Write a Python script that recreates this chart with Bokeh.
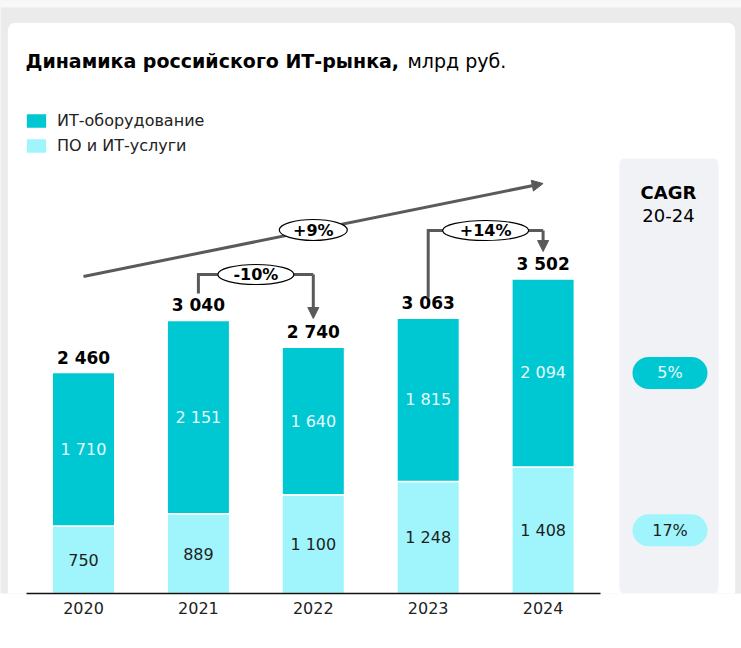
from bokeh.plotting import figure
from bokeh.models import (Range1d, LinearAxis, FixedTicker, ColumnDataSource, Legend,
                          LegendItem, BoxAnnotation, Arrow, NormalHead)
from bokeh.core.properties import value
from bokeh.embed import file_html
from bokeh.resources import INLINE

# ---------------- data ----------------
years = ["2020", "2021", "2022", "2023", "2024"]
hardware = [1710, 2151, 1640, 1815, 2094]      # ИТ-оборудование
software = [750, 889, 1100, 1248, 1408]        # ПО и ИТ-услуги
totals = [2460, 3040, 2740, 3063, 3502]
series_names = ["ИТ-оборудование", "ПО и ИТ-услуги"]
growth_labels = ["+9%", "-10%", "+14%"]
cagr_labels = ["5%", "17%"]
title_bold = "Динамика российского ИТ-рынка,"
title_unit = "млрд руб."

# ---------------- styling ----------------
TEAL = "#00c8d3"
LIGHT = "#a0f5fc"
GRAY = "#5a5a5a"
DARK = "#1e1e1e"
PAGE = "#ebebeb"
FONT = value("DejaVu Sans")

W, H = 741, 648
BOTTOM = 55
FRAME_H = H - BOTTOM   # frame bottom (axis line) at page y 593
PX_X = 114.9           # px per category
X0 = 83                # page x of first category
PX_Y = 221 / 2460      # px per unit

def X(page_x):
    return (page_x - X0) / PX_X

def Y(page_y):
    return (FRAME_H - page_y) / PX_Y

def dy(px):
    return px / PX_Y

def fmt(v):
    return f"{v:,}".replace(",", " ")

p = figure(width=W, height=H, x_range=Range1d(X(0), X(W)), y_range=Range1d(0, FRAME_H / PX_Y),
           output_backend="svg", toolbar_location=None, x_axis_location=None, y_axis_location=None,
           min_border=0, min_border_bottom=BOTTOM, background_fill_color=PAGE,
           border_fill_color="white", outline_line_color=None)
p.xgrid.visible = False
p.ygrid.visible = False

# page background top band and card
p.add_layout(BoxAnnotation(bottom=Y(7), fill_color="#f8f8f8", fill_alpha=1, line_color=None, level="underlay"))
p.add_layout(BoxAnnotation(left=X(7), right=X(735), top=Y(22), bottom=Y(700), border_radius=8,
                           fill_color="white", fill_alpha=1, line_color="#dedede", line_width=1,
                           level="underlay"))
# CAGR panel
p.add_layout(BoxAnnotation(left=X(619), right=X(718), top=Y(158), bottom=Y(593), border_radius=5,
                           fill_color="#f1f2f6", fill_alpha=1, line_color=None, level="underlay"))

xs = list(range(len(years)))
src = ColumnDataSource(dict(x=xs, sw=software, hw=hardware))
rs = p.vbar_stack(["sw", "hw"], x="x", width=0.544, color=[LIGHT, TEAL], line_color="white",
                  line_width=1.5, source=src)

# segment labels
p.text(x=xs, y=[s / 2 for s in software], text=[fmt(v) for v in software], text_font=FONT,
       text_font_size="16px", text_color=DARK, text_align="center", text_baseline="middle")
p.text(x=xs, y=[s + h / 2 for s, h in zip(software, hardware)], text=[fmt(v) for v in hardware],
       text_font=FONT, text_font_size="16px", text_color="#e6fbfd", text_align="center",
       text_baseline="middle")
# totals
p.text(x=xs, y=totals, text=[fmt(v) for v in totals], text_font=FONT, text_font_style="bold",
       text_font_size="17px", text_color="black", text_align="center", text_baseline="bottom",
       y_offset=-5)

# axis
xaxis = LinearAxis(ticker=FixedTicker(ticks=xs), major_label_overrides={i: y for i, y in enumerate(years)},
                   bounds=(X(26), X(600)), major_tick_line_color=None, minor_tick_line_color=None,
                   axis_line_color="#111111", axis_line_width=1.5, major_label_text_font_size="16px",
                   major_label_standoff=2, major_label_text_color="#222222",
                   major_label_text_font="DejaVu Sans")
p.add_layout(xaxis, "below")

head = dict(size=11, fill_color=GRAY, line_color=GRAY)
# trend arrow
p.add_layout(Arrow(x_start=0, y_start=Y(276), x_end=4, y_end=Y(183), line_color=GRAY, line_width=3,
                   end=NormalHead(**head), level="underlay"))
# brackets
p.line(x=[1, 1, 2], y=[Y(293), Y(274), Y(274)], line_color=GRAY, line_width=3, line_join="miter")
p.add_layout(Arrow(x_start=2, y_start=Y(274), x_end=2, y_end=Y(318), line_color=GRAY, line_width=3,
                   end=NormalHead(**head), level="underlay"))
p.line(x=[3, 3, 4], y=[Y(297), Y(230), Y(230)], line_color=GRAY, line_width=3, line_join="miter")
p.add_layout(Arrow(x_start=4, y_start=Y(230), x_end=4, y_end=Y(251), line_color=GRAY, line_width=3,
                   end=NormalHead(**head), level="underlay"))

# growth ellipses
ex = [2, 1.5, 3.5]
ey = [Y(229.5), Y(274), Y(230)]
p.ellipse(x=ex, y=ey, width=[68, 76, 86], height=[21, 20, 20], width_units="screen",
          height_units="screen", fill_color="white", line_color="black", line_width=1.2)
p.text(x=ex, y=ey, text=growth_labels, text_font=FONT, text_font_style="bold", text_font_size="16px",
       text_color="black", text_align="center", text_baseline="middle")

# CAGR pills
pill_y = [software[-1] + hardware[-1] / 2, software[-1] / 2]
for yc, col in zip(pill_y, [TEAL, LIGHT]):
    p.add_layout(BoxAnnotation(left=X(632), right=X(707), bottom=yc - dy(16), top=yc + dy(16),
                               border_radius=16, fill_color=col, fill_alpha=1, line_color=None,
                               level="underlay"))
p.text(x=[X(669.5)] * 2, y=pill_y, text=cagr_labels, text_font=FONT, text_font_size="16px",
       text_color=["#e8fbfd", DARK], text_align="center", text_baseline="middle")
p.text(x=[X(668)], y=[Y(192)], text=["CAGR"], text_font=FONT, text_font_style="bold",
       text_font_size="18px", text_color="black", text_align="center", text_baseline="middle")
p.text(x=[X(668)], y=[Y(215)], text=["20-24"], text_font=FONT, text_font_size="18px",
       text_color="black", text_align="center", text_baseline="middle")

# title
p.text(x=[X(25)], y=[Y(60)], text=[title_bold], text_font=FONT, text_font_style="bold",
       text_font_size="19px", text_color="black", text_align="left", text_baseline="middle")
p.text(x=[X(407)], y=[Y(60)], text=[title_unit], text_font=FONT, text_font_size="19px",
       text_color="black", text_align="left", text_baseline="middle")

# legend
legend = Legend(items=[LegendItem(label=series_names[0], renderers=[rs[1]]),
                       LegendItem(label=series_names[1], renderers=[rs[0]])],
                location=(23, FRAME_H - 155), orientation="vertical", glyph_width=26, glyph_height=19,
                label_height=19, spacing=6, padding=0, margin=0, label_standoff=8,
                border_line_color=None, background_fill_alpha=0, label_text_font_size="16px",
                label_text_font="DejaVu Sans", label_text_color="#222222")
p.add_layout(legend)

open("out.html", "w").write(file_html(p, INLINE))
